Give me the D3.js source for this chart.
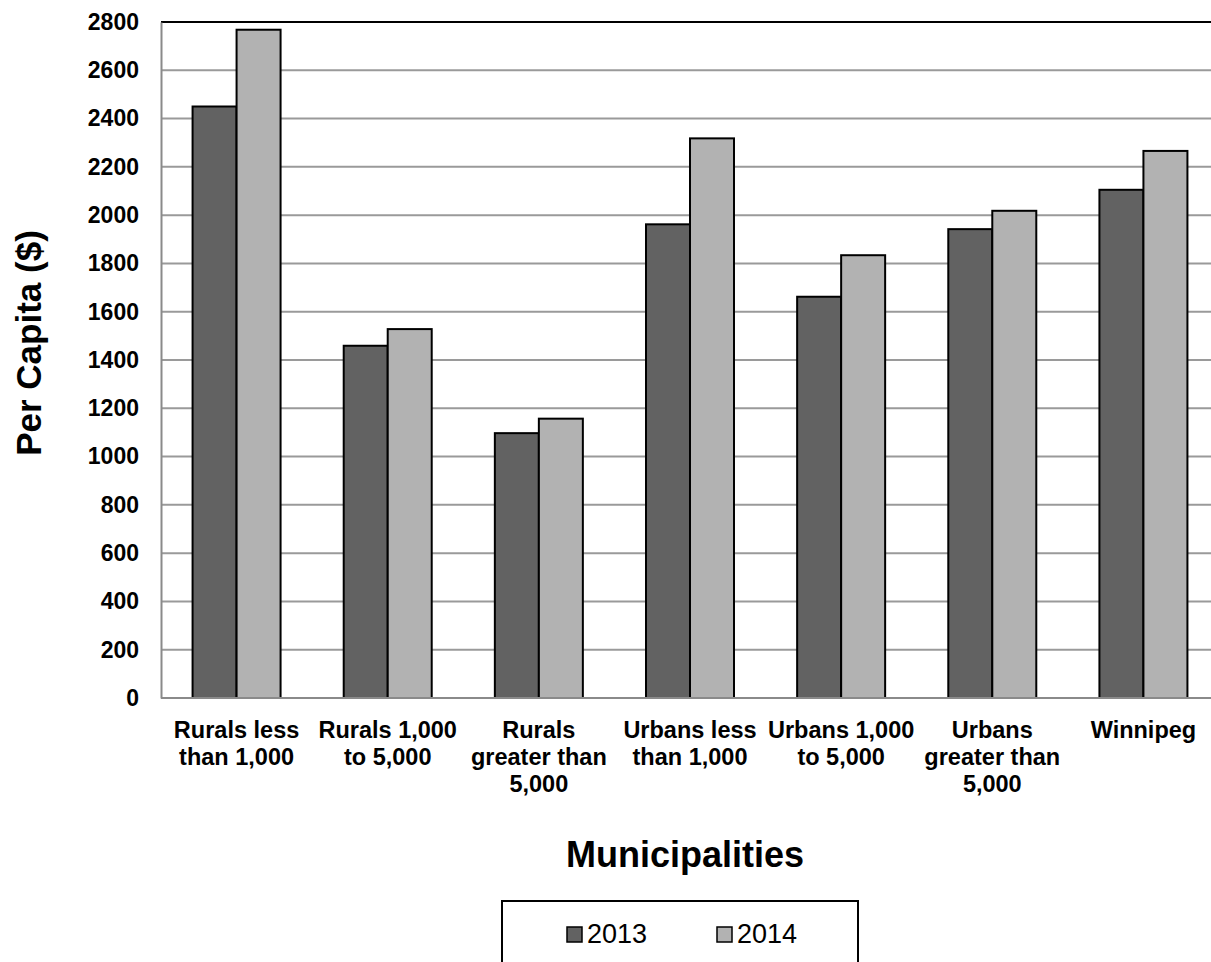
<!DOCTYPE html>
<html>
<head>
<meta charset="utf-8">
<script src="https://cdn.jsdelivr.net/npm/d3@7"></script>
<style>
  body { margin: 0; background: #fff; }
  text { font-family: "Liberation Sans", Arial, sans-serif; }
</style>
</head>
<body>
<script>
// data
var categories = [
  ["Rurals less", "than 1,000"],
  ["Rurals 1,000", "to 5,000"],
  ["Rurals", "greater than", "5,000"],
  ["Urbans less", "than 1,000"],
  ["Urbans 1,000", "to 5,000"],
  ["Urbans", "greater than", "5,000"],
  ["Winnipeg"]
];
var years = ["2013", "2014"];
var values2013 = [2450, 1459, 1097, 1962, 1662, 1942, 2105];
var values2014 = [2768, 1528, 1157, 2318, 1834, 2018, 2266];
var yTicks = [0, 200, 400, 600, 800, 1000, 1200, 1400, 1600, 1800, 2000, 2200, 2400, 2600, 2800];
var colors = ["#626262", "#b2b2b2"];

var W = 1211, H = 962;
var pLeft = 161, pRight = 1219, pTop = 22, pBottom = 698;

var svg = d3.select("body").append("svg")
  .attr("width", W).attr("height", H);

var x = d3.scaleBand().domain(d3.range(categories.length)).range([pLeft, pRight]);
var y = d3.scaleLinear().domain([0, 2800]).range([pBottom, pTop]);
var barW = 44;

// gridlines
svg.append("g").selectAll("line").data(yTicks.filter(function(d){ return d > 0 && d < 2800; }))
  .enter().append("line")
  .attr("x1", pLeft).attr("x2", pRight)
  .attr("y1", function(d){ return y(d); }).attr("y2", function(d){ return y(d); })
  .attr("stroke", "#9a9a9a").attr("stroke-width", 2);

// top border
svg.append("line").attr("x1", pLeft).attr("x2", pRight).attr("y1", y(2800)).attr("y2", y(2800))
  .attr("stroke", "#000").attr("stroke-width", 2);

// y axis
var yAxis = d3.axisLeft(y).tickValues(yTicks).tickFormat(d3.format("d")).tickSize(0).tickPadding(22);
var ga = svg.append("g").attr("transform", "translate(" + pLeft + ",0)").call(yAxis);
ga.select(".domain").attr("stroke", "#8a8a8a").attr("stroke-width", 2);
ga.selectAll("text").attr("font-size", 23).attr("font-weight", "bold").attr("fill", "#000")
  .style("font-family", "Liberation Sans, Arial, sans-serif");

// bars
var series = [values2013, values2014];
series.forEach(function(vals, s) {
  svg.append("g").selectAll("rect").data(vals).enter().append("rect")
    .attr("x", function(d, i){ return x(i) + x.bandwidth() / 2 - barW + s * barW; })
    .attr("y", function(d){ return y(d); })
    .attr("width", barW)
    .attr("height", function(d){ return pBottom - y(d); })
    .attr("fill", colors[s])
    .attr("stroke", "#000").attr("stroke-width", 2);
});

// x baseline
svg.append("line").attr("x1", pLeft).attr("x2", pRight).attr("y1", pBottom).attr("y2", pBottom)
  .attr("stroke", "#8a8a8a").attr("stroke-width", 2);

// category labels
var cl = svg.append("g").selectAll("text").data(categories).enter().append("text")
  .attr("text-anchor", "middle").attr("font-size", 23.5).attr("font-weight", "bold")
  .attr("x", function(d, i){ return x(i) + x.bandwidth() / 2; })
  .attr("y", 738);
cl.selectAll("tspan").data(function(d){ return d; }).enter().append("tspan")
  .attr("x", function(){ return d3.select(this.parentNode).attr("x"); })
  .attr("dy", function(d, i){ return i === 0 ? 0 : 27; })
  .text(function(d){ return d; });

// axis titles
svg.append("text").attr("x", (pLeft + pRight) / 2 - 5).attr("y", 867)
  .attr("text-anchor", "middle").attr("font-size", 36).attr("font-weight", "bold")
  .text("Municipalities");
svg.append("text").attr("transform", "translate(41,343) rotate(-90)")
  .attr("text-anchor", "middle").attr("font-size", 35).attr("font-weight", "bold")
  .text("Per Capita ($)");

// legend
var lg = svg.append("g");
lg.append("rect").attr("x", 502).attr("y", 901).attr("width", 356).attr("height", 70)
  .attr("fill", "#fff").attr("stroke", "#000").attr("stroke-width", 2);
var li = lg.selectAll("g").data(years).enter().append("g")
  .attr("transform", function(d, i){ return "translate(" + (567 + i * 150) + ",927)"; });
li.append("rect").attr("width", 15).attr("height", 15)
  .attr("fill", function(d, i){ return colors[i]; }).attr("stroke", "#000").attr("stroke-width", 1.5);
li.append("text").attr("x", 20).attr("y", 16).attr("font-size", 27).text(function(d){ return d; });
</script>
</body>
</html>
